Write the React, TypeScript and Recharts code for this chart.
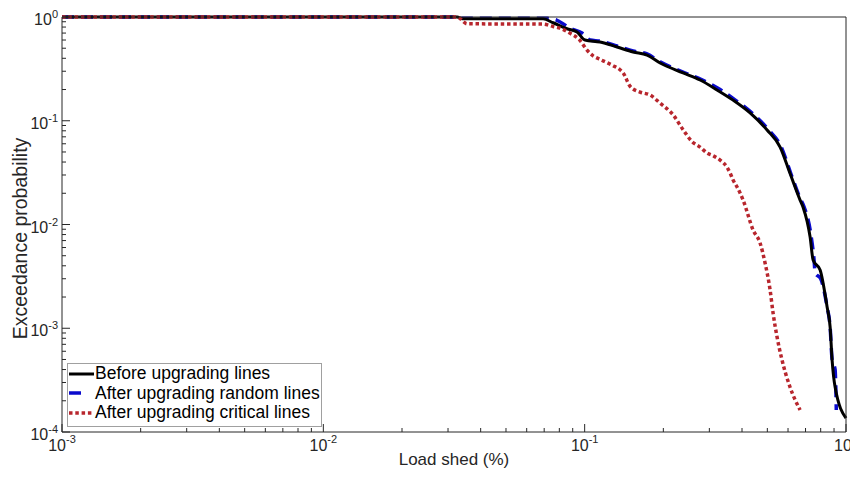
import React from 'react';
import { LineChart, Line, XAxis, YAxis, Legend, Label } from 'recharts';

// ---- data ----
const beforeX = [0.001, 0.0325, 0.034, 0.0693, 0.0757, 0.0856, 0.0935, 0.1003, 0.1145, 0.133, 0.1532, 0.1733, 0.1944, 0.238, 0.2764, 0.3211, 0.3698, 0.4295, 0.4989, 0.5596, 0.611, 0.6673, 0.6851, 0.7289, 0.7484, 0.7961, 0.8467, 0.8694, 0.8848, 0.9085, 1.0];
const beforeY = [1, 1, 0.96, 0.96, 0.88, 0.77, 0.717, 0.6, 0.574, 0.514, 0.46, 0.43, 0.36, 0.289, 0.247, 0.198, 0.158, 0.119, 0.0814, 0.0558, 0.031, 0.0172, 0.0147, 0.00758, 0.00455, 0.00364, 0.0016, 0.00103, 0.000494, 0.000271, 0.000136];

const randomX = [0.001, 0.0325, 0.034, 0.072, 0.0784, 0.088, 0.0977, 0.1049, 0.1145, 0.133, 0.1532, 0.1733, 0.1944, 0.238, 0.28, 0.33, 0.375, 0.435, 0.505, 0.565, 0.615, 0.67, 0.69, 0.735, 0.755, 0.762, 0.8, 0.8467, 0.8694, 0.8848, 0.9085, 0.914, 0.918];
const randomY = [1, 1, 0.97, 0.97, 0.93, 0.78, 0.7, 0.6, 0.585, 0.525, 0.47, 0.44, 0.37, 0.295, 0.25, 0.2, 0.16, 0.12, 0.082, 0.056, 0.031, 0.0175, 0.015, 0.0078, 0.0045, 0.0034, 0.003, 0.0016, 0.00103, 0.0005, 0.0004, 0.00027, 0.000163];

const criticalX = [0.001, 0.0325, 0.0355, 0.069, 0.0757, 0.0805, 0.0877, 0.0957, 0.1021, 0.108, 0.1145, 0.1284, 0.1366, 0.1403, 0.1492, 0.1629, 0.178, 0.1944, 0.218, 0.238, 0.2576, 0.2764, 0.294, 0.3101, 0.3297, 0.3508, 0.3601, 0.3698, 0.383, 0.4039, 0.441, 0.469, 0.4902, 0.5123, 0.526, 0.5449, 0.5696, 0.611, 0.6673];
const criticalY = [1, 1, 0.86, 0.855, 0.81, 0.78, 0.7, 0.6, 0.48, 0.42, 0.39, 0.34, 0.31, 0.29, 0.215, 0.189, 0.177, 0.148, 0.114, 0.082, 0.063, 0.0558, 0.0489, 0.046, 0.0418, 0.0355, 0.0314, 0.0268, 0.023, 0.0172, 0.00885, 0.00663, 0.00425, 0.00234, 0.0014, 0.00082, 0.00049, 0.00027, 0.000163];

const seriesNames = ['Before upgrading lines', 'After upgrading random lines', 'After upgrading critical lines'];

const xMajorTicks = [0.001, 0.01, 0.1, 1];
const yMajorTicks = [0.0001, 0.001, 0.01, 0.1, 1];
const minorMultipliers = [2, 3, 4, 5, 6, 7, 8, 9];

const xTicks = [
  ...xMajorTicks,
  ...xMajorTicks.slice(0, -1).flatMap((d) => minorMultipliers.map((m) => d * m)),
];
const yTicks = [
  ...yMajorTicks,
  ...yMajorTicks.slice(0, -1).flatMap((d) => minorMultipliers.map((m) => d * m)),
];

const zip = (xs: number[], ys: number[]) => xs.map((x, i) => ({ x, y: ys[i] }));
const beforeData = zip(beforeX, beforeY);
const randomData = zip(randomX, randomY);
const criticalData = zip(criticalX, criticalY);

// ---- styles ----
const FONT = '"Liberation Sans", Arial, Helvetica, sans-serif';
const AXIS = '#262626';
const BLACK = '#000000';
const BLUE = '#0a0acd';
const RED = '#b8262d';
const MAJOR = 8;
const MINOR = 4;

const isMajor = (v: number) => {
  const l = Math.log10(v);
  return Math.abs(l - Math.round(l)) < 1e-6;
};
const expOf = (v: number) => String(Math.round(Math.log10(v)));

const BottomTick = (props: any) => {
  const { x, y, payload } = props;
  const v = payload.value;
  const major = isMajor(v);
  return (
    <g>
      <line x1={x} y1={y} x2={x} y2={y - (major ? MAJOR : MINOR)} stroke={AXIS} strokeWidth={1} />
      {major && (
        <text x={x} y={y + 19} textAnchor="middle" fontFamily={FONT} fontSize={16} fill={AXIS}>
          <tspan>10</tspan>
          <tspan dy={-8} fontSize={11}>{expOf(v)}</tspan>
        </text>
      )}
    </g>
  );
};

const TopTick = (props: any) => {
  const { x, y, payload } = props;
  const major = isMajor(payload.value);
  return <line x1={x} y1={y} x2={x} y2={y + (major ? MAJOR : MINOR)} stroke={AXIS} strokeWidth={1} />;
};

const LeftTick = (props: any) => {
  const { x, y, payload } = props;
  const v = payload.value;
  const major = isMajor(v);
  return (
    <g>
      <line x1={x} y1={y} x2={x + (major ? MAJOR : MINOR)} y2={y} stroke={AXIS} strokeWidth={1} />
      {major && (
        <text x={x - 4} y={y + 8} textAnchor="end" fontFamily={FONT} fontSize={16} fill={AXIS}>
          <tspan>10</tspan>
          <tspan dy={-7} fontSize={11}>{expOf(v)}</tspan>
        </text>
      )}
    </g>
  );
};

const RightTick = (props: any) => {
  const { x, y, payload } = props;
  const major = isMajor(payload.value);
  return <line x1={x} y1={y} x2={x - (major ? MAJOR : MINOR)} y2={y} stroke={AXIS} strokeWidth={1} />;
};

const YLabel = (props: any) => {
  const vb = props.viewBox || { x: 0, y: 9, width: 54, height: 415 };
  const cx = 12;
  const cy = vb.y + vb.height / 2 + 14;
  return (
    <text x={cx} y={cy} transform={`rotate(-90, ${cx}, ${cy})`} textAnchor="middle" dominantBaseline="central" fontFamily={FONT} fontSize={19.5} fill={AXIS}>
      Exceedance probability
    </text>
  );
};

const XLabel = (props: any) => {
  const vb = props.viewBox || { x: 54, y: 424, width: 784, height: 40 };
  return (
    <text x={vb.x + vb.width / 2} y={vb.y + 33} textAnchor="middle" fontFamily={FONT} fontSize={17} fill={AXIS}>
      Load shed (%)
    </text>
  );
};

const legendStyles = [
  { color: BLACK, width: 3, dash: undefined as string | undefined },
  { color: BLUE, width: 3.5, dash: '12 20' },
  { color: RED, width: 3.5, dash: '3.5 2.8' },
];

const LegendBox = () => (
  <div
    style={{
      width: 255,
      height: 64,
      boxSizing: 'border-box',
      border: '1px solid #a0a0a0',
      background: '#ffffff',
      fontFamily: FONT,
      fontSize: 17.5,
      color: '#000',
    }}
  >
    {seriesNames.map((name, i) => (
      <div key={name} style={{ display: 'flex', alignItems: 'center', height: 19.5, whiteSpace: 'nowrap' }}>
        <svg width={26} height={12} style={{ marginRight: 1, flex: 'none' }}>
          <line
            x1={1}
            y1={6}
            x2={26}
            y2={6}
            stroke={legendStyles[i].color}
            strokeWidth={legendStyles[i].width}
            strokeDasharray={legendStyles[i].dash}
          />
        </svg>
        <span>{name}</span>
      </div>
    ))}
  </div>
);

export default function App() {
  return (
    <LineChart width={850} height={464} margin={{ top: 0, right: 0, bottom: 0, left: 0 }}>
      <XAxis
        xAxisId="main"
        dataKey="x"
        type="number"
        scale="log"
        domain={[0.001, 1]}
        ticks={xTicks}
        interval={0}
        height={40}
        tickSize={0}
        tickMargin={0}
        tick={<BottomTick />}
        axisLine={{ stroke: AXIS, strokeWidth: 1 }}
        tickLine={false}
        label={<Label content={<XLabel />} />}
      />
      <XAxis
        xAxisId="top"
        orientation="top"
        type="number"
        scale="log"
        domain={[0.001, 1]}
        ticks={xTicks}
        interval={0}
        height={9}
        tickSize={0}
        tickMargin={0}
        tick={<TopTick />}
        axisLine={{ stroke: AXIS, strokeWidth: 1 }}
        tickLine={false}
      />
      <YAxis
        yAxisId="main"
        dataKey="y"
        type="number"
        scale="log"
        domain={[0.0001, 1]}
        ticks={yTicks}
        interval={0}
        width={54}
        tickSize={0}
        tickMargin={0}
        tick={<LeftTick />}
        axisLine={{ stroke: AXIS, strokeWidth: 1 }}
        tickLine={false}
        label={<Label content={<YLabel />} />}
      />
      <YAxis
        yAxisId="right"
        orientation="right"
        type="number"
        scale="log"
        domain={[0.0001, 1]}
        ticks={yTicks}
        interval={0}
        width={12}
        tickSize={0}
        tickMargin={0}
        tick={<RightTick />}
        axisLine={{ stroke: AXIS, strokeWidth: 1 }}
        tickLine={false}
      />
      <Line
        xAxisId="main"
        yAxisId="main"
        data={randomData}
        dataKey="y"
        name={seriesNames[1]}
        type="monotoneX"
        stroke={BLUE}
        strokeWidth={3.5}
        strokeDasharray="12 7"
        dot={false}
        activeDot={false}
        isAnimationActive={false}
      />
      <Line
        xAxisId="main"
        yAxisId="main"
        data={beforeData}
        dataKey="y"
        name={seriesNames[0]}
        type="monotoneX"
        stroke={BLACK}
        strokeWidth={3}
        dot={false}
        activeDot={false}
        isAnimationActive={false}
      />
      <Line
        xAxisId="main"
        yAxisId="main"
        data={criticalData}
        dataKey="y"
        name={seriesNames[2]}
        type="monotoneX"
        stroke={RED}
        strokeWidth={3.5}
        strokeDasharray="3.5 2.8"
        dot={false}
        activeDot={false}
        isAnimationActive={false}
      />
      <Legend
        layout="vertical"
        align="center"
        verticalAlign="middle"
        content={<LegendBox />}
        wrapperStyle={{ left: 59, top: 355, width: 255, height: 64 }}
      />
    </LineChart>
  );
}
